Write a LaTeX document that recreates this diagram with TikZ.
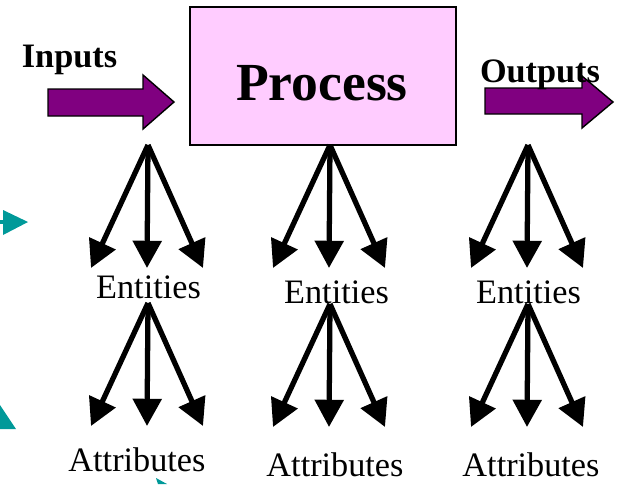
\documentclass[tikz,border=0pt]{standalone}
\usepackage{fontspec}
\setmainfont{Liberation Serif}
\usepackage{tikz}
\usetikzlibrary{calc,arrows.meta}
\definecolor{boxpink}{HTML}{FFCCFF}
\definecolor{bigpurple}{HTML}{800080}
\definecolor{sideteal}{HTML}{009999}
\tikzset{
  fanarrow/.style={line width=3pt,-{Triangle[length=15.5pt,width=16pt]}},
  bigarrow/.style={fill=bigpurple,draw=black,line width=0.8pt},
  headlabel/.style={anchor=base,inner sep=0pt,font=\fontsize{19.5}{22}\selectfont\bfseries},
  itemlabel/.style={anchor=base,inner sep=0pt,font=\fontsize{19.5}{22}\selectfont}
}
% three arrows fanning out of one point: name, x, y
\newcommand{\fanout}[3]{%
  \coordinate (#1) at (#2,#3);
  \coordinate (#1-l) at ($(#1)+(-57,123)$);
  \coordinate (#1-m) at ($(#1)+(-1,123)$);
  \coordinate (#1-r) at ($(#1)+(55,123)$);
  \draw[fanarrow] (#1) -- (#1-l);
  \draw[fanarrow] (#1) -- (#1-m);
  \draw[fanarrow] (#1) -- (#1-r);
}

\begin{document}
\begin{tikzpicture}[x=0.02cm,y=-0.02cm]
  \useasboundingbox (0,0) rectangle (625,484);
  % % process box
  \node[draw,fill=boxpink,line width=0.8pt,minimum width=5.32cm,minimum height=2.76cm,inner sep=0pt] (process) at (323,76) {};
  \node[headlabel,font=\fontsize{30.5}{34}\selectfont\bfseries] (processtext) at (322,100) {Process};
  % % big arrows in and out
  \draw[bigarrow] (48,89) -- (143,89) -- (143,75) -- (174,102) -- (143,129) -- (143,116) -- (48,116) -- cycle;
  \draw[bigarrow] (485,88) -- (582,88) -- (582,76) -- (613,102) -- (582,128) -- (582,114) -- (485,114) -- cycle;
  \node[headlabel] (inputs) at (69.5,67) {Inputs};
  \node[headlabel] (outputs) at (540,82) {Outputs};
  % % entities
  \fanout{inent}{148}{145}
  \fanout{procent}{330}{145}
  \fanout{outent}{528}{145}
  \node[itemlabel] (inentities) at (148.5,298) {Entities};
  \node[itemlabel] (procentities) at (336.5,303) {Entities};
  \node[itemlabel] (outentities) at (528.5,303) {Entities};
  % % attributes
  \fanout{inatt}{148}{303}
  \fanout{procatt}{330}{304}
  \fanout{outatt}{528}{304}
  \node[itemlabel] (inattributes) at (137,471) {Attributes};
  \node[itemlabel] (procattributes) at (335,476) {Attributes};
  \node[itemlabel] (outattributes) at (531,476) {Attributes};
  % % teal bits cut off at the edges
  \fill[sideteal] (0,220) rectangle (4,223.5);
  \fill[sideteal] (3,210) -- (28,222) -- (3,235) -- cycle;
  \fill[sideteal] (0,405) -- (16,429) -- (0,429) -- cycle;
  \fill[sideteal] (156,478) -- (167,484) -- (158,484) -- cycle;
\end{tikzpicture}
\end{document}
